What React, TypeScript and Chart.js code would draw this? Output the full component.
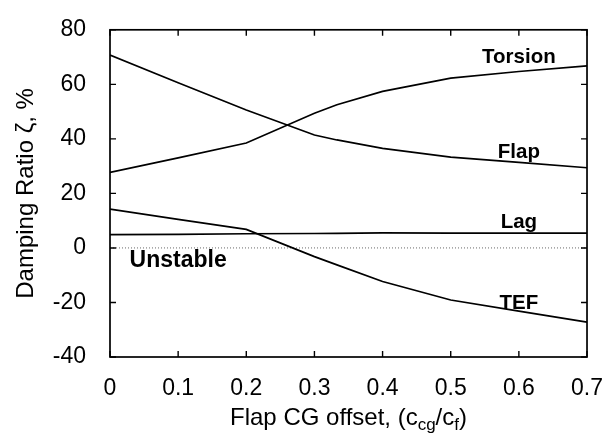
import React, { useEffect, useRef } from 'react';
import { Chart, registerables } from 'chart.js';

Chart.register(...registerables);

// ---- data ----
const offsets = [0, 0.1, 0.2, 0.3, 0.333, 0.4, 0.5, 0.6, 0.7];
const torsion = [27.7, 33.0, 38.5, 49.4, 52.5, 57.4, 62.3, 64.7, 66.8];
const flap = [70.7, 60.6, 50.6, 41.4, 39.6, 36.5, 33.3, 31.4, 29.4];
const lag = [4.9, 5.0, 5.2, 5.3, 5.35, 5.5, 5.4, 5.4, 5.4];
const tef = [14.2, 10.5, 6.8, -3.2, -6.2, -12.3, -19.1, -23.2, -27.2];
const zeroLine = [0, 0];
const zeroLineX = [0, 0.7];

const xTicks = [0, 0.1, 0.2, 0.3, 0.4, 0.5, 0.6, 0.7];
const xTickLabels = ['0', '0.1', '0.2', '0.3', '0.4', '0.5', '0.6', '0.7'];
const yTicks = [-40, -20, 0, 20, 40, 60, 80];
const yTickLabels = ['-40', '-20', '0', '20', '40', '60', '80'];

const modeLabels = ['Torsion', 'Flap', 'Lag', 'TEF', 'Unstable'];
const modeLabelX = [0.6, 0.6, 0.6, 0.6, 0.1];
const modeLabelY = [67.8, 33.1, 7.2, -22.4, -6.9];
const modeLabelSize = [20.5, 20.5, 20.5, 20.5, 23];

const yTitle = 'Damping Ratio \u03B6, %';
const xTitleParts = [
  { text: 'Flap CG offset, (c', sub: false },
  { text: 'cg', sub: true },
  { text: '/c', sub: false },
  { text: 'f', sub: true },
  { text: ')', sub: false },
];

const FONT = '"Liberation Sans", Arial, Helvetica, sans-serif';

const toXY = (ys: number[], xs: number[] = offsets) => ys.map((y, i) => ({ x: xs[i], y }));

const decorPlugin = {
  id: 'decor',
  afterDatasetsDraw(chart: any) {
    const { ctx, chartArea } = chart;
    const xs = chart.scales.x;
    const ys = chart.scales.y;
    const { left, right, top, bottom } = chartArea;
    ctx.save();
    ctx.strokeStyle = '#000';
    ctx.lineWidth = 1.7;
    ctx.strokeRect(left, top, right - left, bottom - top);
    const tl = 6;
    ctx.lineWidth = 1.4;
    ctx.beginPath();
    xTicks.forEach((v) => {
      const px = xs.getPixelForValue(v);
      ctx.moveTo(px, bottom);
      ctx.lineTo(px, bottom - tl);
      ctx.moveTo(px, top);
      ctx.lineTo(px, top + tl);
    });
    yTicks.forEach((v) => {
      const py = ys.getPixelForValue(v);
      ctx.moveTo(left, py);
      ctx.lineTo(left + tl, py);
      ctx.moveTo(right, py);
      ctx.lineTo(right - tl, py);
    });
    ctx.stroke();

    // mode labels
    ctx.fillStyle = '#000';
    ctx.textAlign = 'center';
    ctx.textBaseline = 'alphabetic';
    modeLabels.forEach((t, i) => {
      ctx.font = `bold ${modeLabelSize[i]}px ${FONT}`;
      ctx.fillText(t, xs.getPixelForValue(modeLabelX[i]), ys.getPixelForValue(modeLabelY[i]));
    });

    // y title
    ctx.font = `24px ${FONT}`;
    ctx.save();
    ctx.translate(33, (top + bottom) / 2);
    ctx.rotate(-Math.PI / 2);
    ctx.textAlign = 'center';
    ctx.fillText(yTitle, 0, 0);
    ctx.restore();

    // x title with subscripts
    const mainFont = `24px ${FONT}`;
    const subFont = `17px ${FONT}`;
    let total = 0;
    xTitleParts.forEach((p) => {
      ctx.font = p.sub ? subFont : mainFont;
      total += ctx.measureText(p.text).width;
    });
    let x = (left + right) / 2 - total / 2;
    const base = 425;
    ctx.textAlign = 'left';
    xTitleParts.forEach((p) => {
      ctx.font = p.sub ? subFont : mainFont;
      ctx.fillText(p.text, x, p.sub ? base + 5 : base);
      x += ctx.measureText(p.text).width;
    });
    ctx.restore();
  },
};

export default function App() {
  const ref = useRef<HTMLCanvasElement>(null);
  useEffect(() => {
    if (!ref.current) return;
    const line = (data: number[]) => ({
      data: toXY(data),
      borderColor: '#000',
      borderWidth: 1.7,
      pointRadius: 0,
      fill: false,
      tension: 0,
    });
    const chart = new Chart(ref.current, {
      type: 'line',
      data: {
        datasets: [
          { label: 'Torsion', ...line(torsion) },
          { label: 'Flap', ...line(flap) },
          { label: 'Lag', ...line(lag) },
          { label: 'TEF', ...line(tef) },
          {
            label: 'zero',
            data: toXY(zeroLine, zeroLineX),
            borderColor: '#444',
            borderWidth: 0.8,
            borderDash: [1, 2],
            pointRadius: 0,
            fill: false,
          },
        ],
      },
      options: {
        responsive: false,
        animation: false,
        devicePixelRatio: 1,
        layout: { padding: { left: 0, top: 17, right: 23, bottom: 0 } },
        plugins: { legend: { display: false }, tooltip: { enabled: false }, title: { display: false } },
        scales: {
          x: {
            type: 'linear',
            min: 0,
            max: 0.7,
            grid: { display: false },
            border: { display: false },
            afterBuildTicks: (s: any) => {
              s.ticks = xTicks.map((v) => ({ value: v }));
            },
            afterFit: (s: any) => {
              s.height = 84;
            },
            ticks: {
              color: '#000',
              font: { family: FONT, size: 23 },
              padding: 10,
              maxRotation: 0,
              autoSkip: false,
              callback: (v: any, i: number) => xTickLabels[i],
            },
          },
          y: {
            type: 'linear',
            min: -40,
            max: 80,
            grid: { display: false },
            border: { display: false },
            afterBuildTicks: (s: any) => {
              s.ticks = yTicks.map((v) => ({ value: v }));
            },
            afterFit: (s: any) => {
              s.width = 110;
            },
            ticks: {
              color: '#000',
              font: { family: FONT, size: 23 },
              padding: 16,
              autoSkip: false,
              callback: (v: any, i: number) => yTickLabels[i],
            },
          },
        },
      },
      plugins: [decorPlugin],
    });
    return () => chart.destroy();
  }, []);
  return (
    <div style={{ position: 'absolute', left: 0, top: 0, width: 613, height: 441, background: '#fff' }}>
      <canvas ref={ref} width={613} height={441} style={{ display: 'block' }} />
    </div>
  );
}
